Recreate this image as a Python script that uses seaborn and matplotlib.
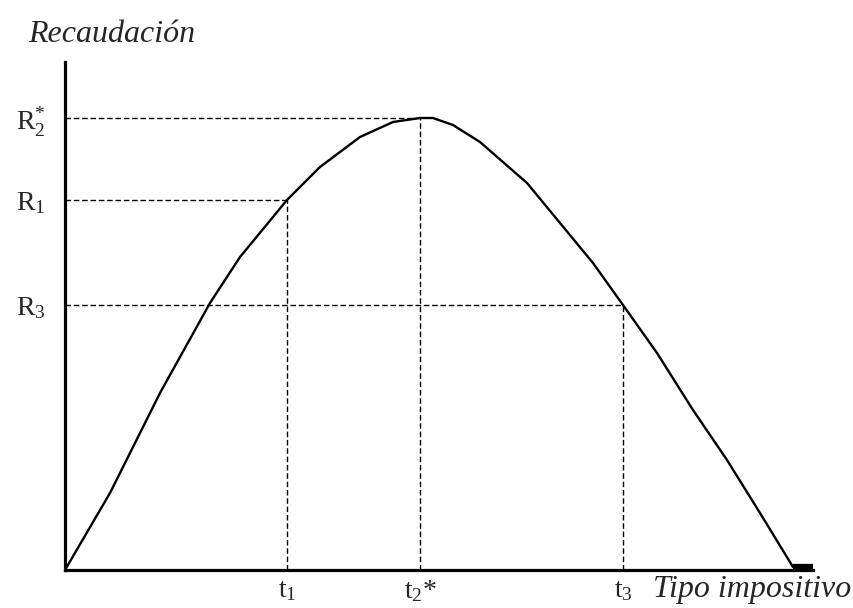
import numpy as np
import pandas as pd
import matplotlib
matplotlib.use('Agg')
import matplotlib.pyplot as plt
import seaborn as sns

# Laffer curve (x: tax rate, y: revenue, arbitrary units)
tax_rate = [0, 45, 95, 145, 175, 222, 255, 295, 328, 355, 368, 388, 415, 462, 495, 528, 558, 592, 628, 662, 695, 728]
revenue = [0, 77, 177, 267, 313, 370, 403, 433, 448, 452, 452, 445, 428, 387, 347, 307, 265, 217, 160, 110, 57, 3]
tail_x = [728, 748]
tail_y = [3, 3]

# reference points
t_labels = [r'$\mathrm{t}_1$', r'$\mathrm{t}_2$*', r'$\mathrm{t}_3$']
t_values = [222, 355, 558]
r_labels = [r'$\mathrm{R}_3$', r'$\mathrm{R}_1$', r'$\mathrm{R}^{*}_{2}$']
r_values = [265, 370, 452]

sns.set_style('white')
plt.rcParams['font.family'] = ['Liberation Serif', 'DejaVu Serif']
plt.rcParams['mathtext.fontset'] = 'custom'
plt.rcParams['mathtext.rm'] = 'Liberation Serif'
plt.rcParams['mathtext.it'] = 'Liberation Serif:italic'

fig = plt.figure(figsize=(8.54, 6.08), dpi=100)
ax = fig.add_axes([65 / 854, 38 / 608, 748 / 854, 508 / 608])

curve = pd.DataFrame({'t': tax_rate, 'R': revenue})
sns.lineplot(data=curve, x='t', y='R', color='black', linewidth=1.7, ax=ax)
ax.plot(tail_x, tail_y, color='black', linewidth=4.5, solid_capstyle='butt')

# dashed guides: horizontal from the axis, vertical down to the axis
for t, r in zip(t_values, [r_values[1], r_values[2], r_values[0]]):
    ax.plot([0, t], [r, r], color='black', linestyle=(0, (4, 2)), linewidth=1.0)
    ax.plot([t, t], [0, r], color='black', linestyle=(0, (4, 2)), linewidth=1.0)

ax.set_xlim(0, 748)
ax.set_ylim(0, 508)
for side in ['top', 'right']:
    ax.spines[side].set_visible(False)
for side in ['left', 'bottom']:
    ax.spines[side].set_color('black')
    ax.spines[side].set_linewidth(2.3)

ax.set_xticks(t_values)
ax.set_xticklabels(t_labels, fontsize=20)
ax.set_yticks(r_values)
ax.set_yticklabels(r_labels, fontsize=20)
ax.tick_params(axis='y', length=0, pad=14)
ax.tick_params(axis='x', length=0, pad=6)
ax.set_xlabel('')
ax.set_ylabel('')

fig.text(28 / 854, 1 - 34 / 608, 'Recaudación', fontsize=23, style='italic',
         ha='left', va='center')
fig.text(851 / 854, 1 - 589 / 608, 'Tipo impositivo', fontsize=23, style='italic',
         ha='right', va='center')

fig.savefig('out.png', dpi=100)
